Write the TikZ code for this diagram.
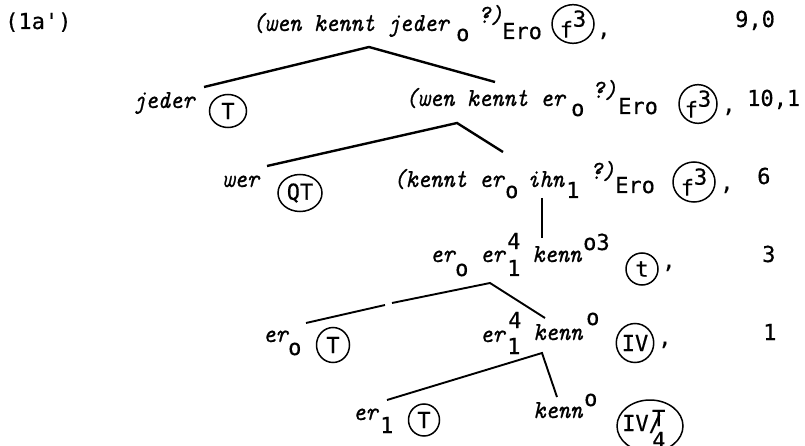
\documentclass[tikz,border=0pt]{standalone}
\usepackage{fontspec}
\newfontfamily\tw{DejaVu Sans Mono}[FakeBold=0.4]
\newfontfamily\scr{lmmono10-italic}[Extension=.otf, FakeStretch=0.9, FakeBold=0.7]
\usetikzlibrary{shapes.geometric}
\begin{document}
\begin{tikzpicture}[x=1pt,y=-1pt,
  it/.style={font=\fontsize{26}{26}\selectfont\scr, inner sep=0pt, anchor=base west},
  tt/.style={font=\fontsize{22}{22}\selectfont\tw, inner sep=0pt, anchor=base west},
  ring/.style={draw, ellipse, line width=1.5pt, inner sep=0pt, font=\fontsize{22}{22}\selectfont\tw},
  branch/.style={line width=2.4pt},
  thin branch/.style={line width=1.9pt},
]
\fill[white] (0,0) rectangle (805,446);
\useasboundingbox (0,0) rectangle (805,446);
% ---------- row 1
\node[tt] (lab) at (5,29) {(1a')};
\node[it] (r1a) at (252,31) {(wen kennt jeder};
\node[tt] (r1o) at (456,41) {o};
\node[it] (r1q) at (478,23) {?)};
\node[tt] (r1e) at (502,39) {Ero};
\node[ring, minimum width=42pt, minimum height=37pt] (r1c) at (573,24) {f\raisebox{0.5em}{3}};
\node[tt] (r1k) at (597,36) {,};
\node[tt] (r1n) at (735,27) {9,0};
% tree 1
\coordinate (t1l) at (204,87);
\coordinate (t1a) at (369,47);
\coordinate (t1r) at (495,82);
\draw[branch] (t1l) -- (t1a) -- (t1r);
% ---------- row 2
\node[it] (r2a) at (133,108) {jeder};
\node[ring, minimum width=37pt, minimum height=33pt] (r2c1) at (228,111) {T};
\node[it] (r2b) at (405,106) {(wen kennt er};
\node[tt] (r2o) at (571,116) {o};
\node[it] (r2q) at (592,98) {?)};
\node[tt] (r2e) at (618,114) {Ero};
\node[ring, minimum width=38pt, minimum height=36pt] (r2c2) at (698,104) {f\raisebox{0.5em}{3}};
\node[tt] (r2k) at (722,112) {,};
\node[tt] (r2n) at (747,106) {10,1};
% tree 2
\coordinate (t2l) at (267,166);
\coordinate (t2a) at (457,123);
\coordinate (t2r) at (503,152);
\draw[branch] (t2l) -- (t2a) -- (t2r);
% ---------- row 3
\node[it] (r3a) at (222,187) {wer};
\node[ring, minimum width=44pt, minimum height=37pt] (r3c1) at (300,193) {QT};
\node[it] (r3b) at (393,187) {(kennt er};
\node[tt] (r3o) at (505,198) {o};
\node[it] (r3c) at (527,187) {ihn};
\node[tt] (r3i) at (566,198) {1};
\node[it] (r3q) at (590,179) {?)};
\node[tt] (r3e) at (615,193) {Ero};
\node[ring, minimum width=42pt, minimum height=40pt] (r3c2) at (694,182) {f\raisebox{0.5em}{3}};
\node[tt] (r3k) at (720,190) {,};
\node[tt] (r3n) at (757,184) {6};
% vertical connector
\coordinate (v1t) at (542,198);
\coordinate (v1b) at (542,238);
\draw[thin branch] (v1t) -- (v1b);
% ---------- row 4
\node[it] (r4a) at (430,262) {er};
\node[tt] (r4o) at (455,276) {o};
\node[it] (r4b) at (480,262) {er};
\node[tt] (r4s) at (507,249) {4};
\node[tt] (r4i) at (507,276) {1};
\node[it] (r4c) at (532,262) {kenn};
\node[tt] (r4p) at (583,250) {o3};
\node[ring, minimum width=32pt, minimum height=32pt] (r4c1) at (642,269) {t};
\node[tt] (r4k) at (662,268) {,};
\node[tt] (r4n) at (762,262) {3};
% tree 3
\coordinate (t3l) at (306,323);
\coordinate (t3g1) at (385,305);
\coordinate (t3g2) at (392,303);
\coordinate (t3a) at (490,283);
\coordinate (t3r) at (545,318);
\draw[thin branch] (t3l) -- (t3g1);
\draw[thin branch] (t3g2) -- (t3a) -- (t3r);
% ---------- row 5
\node[it] (r5a) at (263,342) {er};
\node[tt] (r5o) at (288,355) {o};
\node[ring, minimum width=33pt, minimum height=35pt] (r5c1) at (333,345) {T};
\node[it] (r5b) at (480,342) {er};
\node[tt] (r5s) at (508,328) {4};
\node[tt] (r5i) at (507,354) {1};
\node[it] (r5c) at (533,340) {kenn};
\node[tt] (r5p) at (586,325) {o};
\node[ring, minimum width=36pt, minimum height=39pt] (r5c2) at (635,343) {IV};
\node[tt] (r5k) at (658,345) {,};
\node[tt] (r5n) at (763,340) {1};
% tree 4
\coordinate (t4l) at (387,400);
\coordinate (t4a) at (542,353);
\coordinate (t4r) at (557,397);
\draw[thin branch] (t4l) -- (t4a) -- (t4r);
% ---------- row 6
\node[it] (r6a) at (353,420) {er};
\node[tt] (r6i) at (380,433) {1};
\node[ring, minimum width=31pt, minimum height=32pt] (r6c1) at (424,420) {T};
\node[it] (r6c) at (533,418) {kenn};
\node[tt] (r6p) at (584,406) {o};
\node[draw, ellipse, line width=1.5pt, minimum width=66pt, minimum height=52pt, inner sep=0pt] (r6c2) at (650,426) {};
\node[tt] (r6t1) at (622,431) {IV/};
\node[tt] (r6t2) at (652,426) {T};
\node[tt] (r6t3) at (652,448) {4};
\end{tikzpicture}
\end{document}
